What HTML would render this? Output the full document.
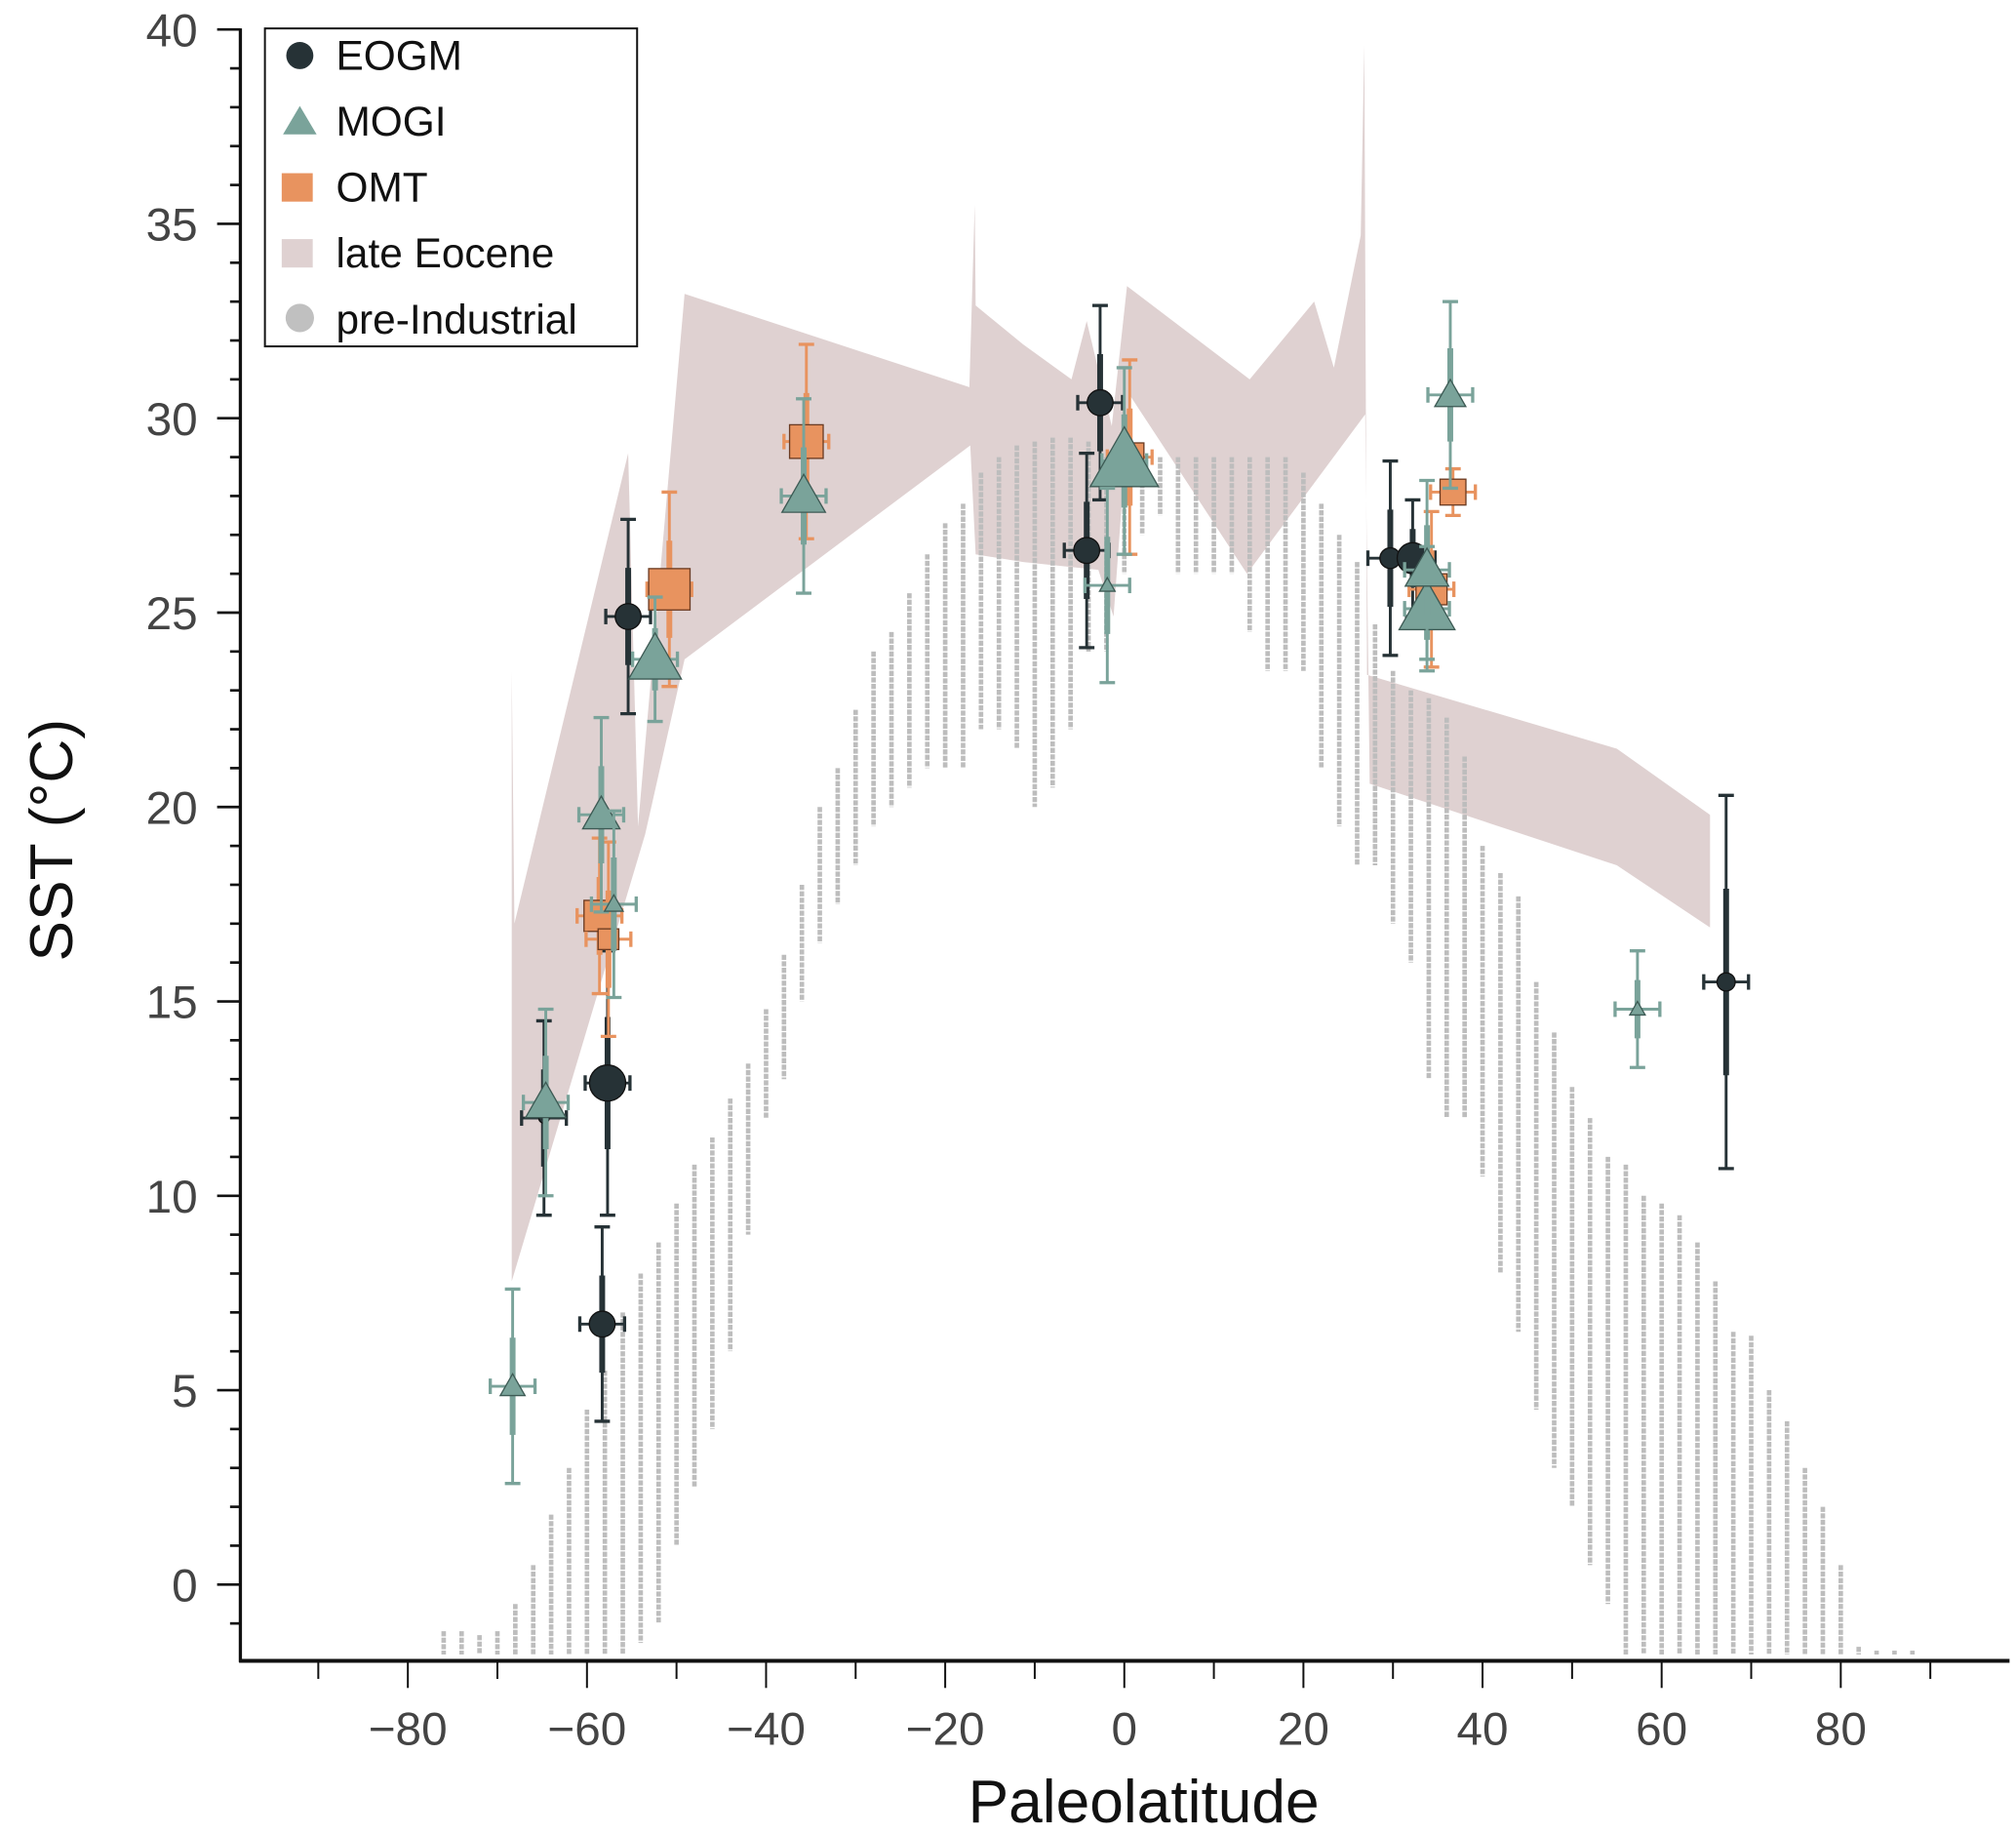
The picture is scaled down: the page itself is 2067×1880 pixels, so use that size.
<!DOCTYPE html>
<html><head><meta charset="utf-8"><style>
html,body{margin:0;padding:0;background:#fff}
svg{display:block}
text{font-family:"Liberation Sans",sans-serif}
</style></head><body>
<svg id="chart" width="2067" height="1880" viewBox="0 0 1560 1419" preserveAspectRatio="none" xmlns="http://www.w3.org/2000/svg">
<g id="band"></g>
<g id="pi"></g>
<g id="pts"></g>
<g id="axes"></g>
<g>
<rect x="205" y="22" width="288" height="246" fill="#fff" stroke="#111" stroke-width="1.5"/>
<circle cx="232" cy="43" r="10.5" fill="#263236"/>
<text x="260" y="54" font-size="32" fill="#111">EOGM</text>
<polygon points="232,82 245,104 219,104" fill="#7aa39a"/>
<text x="260" y="105" font-size="32" fill="#111">MOGI</text>
<rect x="218" y="134" width="24" height="22" fill="#e8935f"/>
<text x="260" y="156" font-size="32" fill="#111">OMT</text>
<rect x="218" y="185" width="24" height="22" fill="#dfd1d1"/>
<text x="260" y="207" font-size="32" fill="#111">late Eocene</text>
<circle cx="232" cy="246" r="11" fill="#c0c0c0"/>
<text x="260" y="258" font-size="32" fill="#111">pre-Industrial</text>
</g>
<text x="885" y="1410" font-size="47" text-anchor="middle" fill="#111">Paleolatitude</text>
<text transform="translate(56,650) rotate(-90)" font-size="47" text-anchor="middle" fill="#111">SST (°C)</text>
</svg>
<script>
const bandUpLat=[-68.4,-68.1,-55.4,-54.3,-49.1,-17.3,-16.7,-16.6,-11.3,-5.9,-4.2,-1.4,0.3,14.0,21.2,23.4,26.4,26.8,27.1,55.0,65.4];
const bandUpT=[23.5,17.0,29.1,19.5,33.2,30.8,35.5,32.9,31.9,31.0,32.5,29.8,33.4,31.0,33.0,31.3,34.7,39.6,23.4,21.5,19.8];
const bandLoLat=[65.4,55.0,27.4,26.9,13.7,0.6,-1.2,-2.9,-11.3,-16.6,-17.2,-49.1,-53.5,-68.4];
const bandLoT=[16.9,18.5,20.6,30.1,26.0,30.6,24.9,26.1,26.3,26.5,29.3,23.8,19.3,7.8];
const piLat=[-76,-74,-72,-70,-68,-66,-64,-62,-60,-58,-56,-54,-52,-50,-48,-46,-44,-42,-40,-38,-36,-34,-32,-30,-28,-26,-24,-22,-20,-18,-16,-14,-12,-10,-8,-6,-4,-2,0,2,4,6,8,10,12,14,16,18,20,22,24,26,28,30,32,34,36,38,40,42,44,46,48,50,52,54,56,58,60,62,64,66,68,70,72,74,76,78,80,82,84,86,88];
const piMax=[-1.2,-1.2,-1.3,-1.2,-0.5,0.5,1.8,3,4.5,5.5,7,8,8.8,9.8,10.8,11.5,12.5,13.4,14.8,16.2,18,20,21,22.5,24,24.5,25.5,26.5,27.3,27.8,28.6,29,29.3,29.4,29.5,29.5,29.4,29,29,29,29,29,29,29,29,29,29,29,28.6,27.8,27,26.3,24.7,23.5,23,22.8,22.3,21.3,19,18.3,17.7,15.5,14.2,12.8,12,11,10.8,10,9.8,9.5,8.8,7.8,6.5,6.4,5,4.2,3,2,0.5,-1.6,-1.7,-1.7,-1.7];
const piMin=[-1.8,-1.8,-1.8,-1.8,-1.8,-1.8,-1.8,-1.8,-1.8,-1.8,-1.8,-1.5,-1,1,2.5,4,6,9,12,13,15,16.5,17.5,18.5,19.5,20,20.5,21,21,21,22,22,21.5,20,20.5,22,24,24,26,27,27.5,26,26,26,26,24.5,23.5,23.5,23.5,21,19.5,18.5,18.5,17,16,13,12,12,10.5,8,6.5,4.5,3,2,0.5,-0.5,-1.8,-1.8,-1.8,-1.8,-1.8,-1.8,-1.8,-1.8,-1.8,-1.8,-1.8,-1.8,-1.8,-1.8,-1.8,-1.8,-1.8];
const eogmLat=[-55.4,-57.7,-58.3,-2.7,-4.2,29.7,32.2,67.2,-64.8];
const eogmT=[24.9,12.9,6.7,30.4,26.6,26.4,26.4,15.5,12.0];
const eogmErr=[2.5,3.4,2.5,2.5,2.5,2.5,1.5,4.8,2.5];
const eogmSize=[10,14,10,10,10,8,12,7,4];
const mogiLat=[-68.3,-64.6,-58.4,-57.0,-52.4,-35.8,0.0,-1.9,33.8,33.8,36.4,57.3];
const mogiT=[5.1,12.4,19.8,17.5,23.8,28.0,28.9,25.7,25.1,26.1,30.6,14.8];
const mogiErr=[2.5,2.4,2.5,2.4,1.6,2.5,2.4,2.5,1.6,2.3,2.4,1.5];
const mogiSize=[16,26,24,12,34,28,44,10,36,28,20,10];
const omtLat=[-58.6,-57.6,-50.8,-35.5,0.6,36.7,34.3];
const omtT=[17.2,16.6,25.6,29.4,29.0,28.1,25.6];
const omtErr=[2.0,2.5,2.5,2.5,2.5,0.6,2.0];
const omtSize=[24,16,32,26,22,20,24];
const xTicks=[-80,-60,-40,-20,0,20,40,60,80];
const yTicks=[0,5,10,15,20,25,30,35,40];

const NS='http://www.w3.org/2000/svg';
const X=v=>870+v*6.93, Y=v=>1226-v*30.08;
function mk(tag,attrs,parent){const e=document.createElementNS(NS,tag);for(const k in attrs)e.setAttribute(k,attrs[k]);parent.appendChild(e);return e;}

const bandG=document.getElementById('band');
let pts=[];
bandUpLat.forEach((l,i)=>pts.push(X(l)+','+Y(bandUpT[i])));
bandLoLat.forEach((l,i)=>pts.push(X(l)+','+Y(bandLoT[i])));
const bp=mk('polygon',{points:pts.join(' '),fill:'#dfd1d1'},bandG);



const piG=document.getElementById('pi');
piLat.forEach((l,i)=>{
  const ln=mk('line',{x1:X(l),x2:X(l),y1:Y(piMax[i]),y2:Y(Math.max(piMin[i],-1.8)),stroke:'#bdbdbd','stroke-width':3.5,'stroke-dasharray':'4 1'},piG);
  
  
});

const ptG=document.getElementById('pts');
function errbars(g,x,y,err,col){
  const cy=Y(y), cx=X(x);
  mk('line',{x1:cx,x2:cx,y1:Y(y+err),y2:Y(y-err),stroke:col,'stroke-width':2.2},g);
  mk('line',{x1:cx,x2:cx,y1:Y(y+err*0.5),y2:Y(y-err*0.5),stroke:col,'stroke-width':4.5},g);
  [Y(y+err),Y(y-err)].forEach(yy=>mk('line',{x1:cx-6,x2:cx+6,y1:yy,y2:yy,stroke:col,'stroke-width':2.5},g));
  const xe=2.5*6.93;
  mk('line',{x1:cx-xe,x2:cx+xe,y1:cy,y2:cy,stroke:col,'stroke-width':2.2},g);
  [cx-xe,cx+xe].forEach(xx=>mk('line',{x1:xx,x2:xx,y1:cy-6,y2:cy+6,stroke:col,'stroke-width':2.5},g));
}
eogmLat.forEach((l,i)=>{
  const g=mk('g',{},ptG);
  
  
  errbars(g,l,eogmT[i],eogmErr[i],'#263236');
  mk('circle',{cx:X(l),cy:Y(eogmT[i]),r:eogmSize[i],fill:'#263236',stroke:'#111','stroke-width':1},g);
});
omtLat.forEach((l,i)=>{
  const g=mk('g',{},ptG);
  
  
  errbars(g,l,omtT[i],omtErr[i],'#e8935f');
  const s=omtSize[i];
  mk('rect',{x:X(l)-s/2,y:Y(omtT[i])-s/2,width:s,height:s,fill:'#e8935f',stroke:'#6b3b22','stroke-width':1},g);
});
mogiLat.forEach((l,i)=>{
  const g=mk('g',{},ptG);
  
  
  errbars(g,l,mogiT[i],mogiErr[i],'#7aa39a');
  const s=mogiSize[i],cx=X(l),cy=Y(mogiT[i]);
  mk('polygon',{points:`${cx},${cy-s*0.6} ${cx+s*0.6},${cy+s*0.45} ${cx-s*0.6},${cy+s*0.45}`,fill:'#7aa39a',stroke:'#3d5a54','stroke-width':1},g);
});

const ax=document.getElementById('axes');
mk('line',{x1:186,x2:186,y1:22,y2:1286,stroke:'#111','stroke-width':2.5},ax);
mk('line',{x1:185,x2:1555,y1:1285,y2:1285,stroke:'#111','stroke-width':3},ax);
for(let v=-90;v<=90;v+=10){
  const major=xTicks.includes(v);
  mk('line',{x1:X(v),x2:X(v),y1:1285,y2:major?1306:1299,stroke:'#111','stroke-width':1.5},ax);
}
xTicks.forEach(v=>{
  const t=mk('text',{x:X(v),y:1350,'font-size':36,'text-anchor':'middle',fill:'#444'},ax);
  t.textContent=(v<0?'\u2212'+(-v):v);
  
  
});
for(let v=-1;v<=40;v++){
  const major=yTicks.includes(v);
  mk('line',{x1:major?168:178,x2:186,y1:Y(v),y2:Y(v),stroke:'#111','stroke-width':2},ax);
}
yTicks.forEach(v=>{
  const t=mk('text',{x:153,y:Y(v)+13,'font-size':36,'text-anchor':'end',fill:'#444'},ax);
  t.textContent=v;
  
  
});
</script>
</body></html>
